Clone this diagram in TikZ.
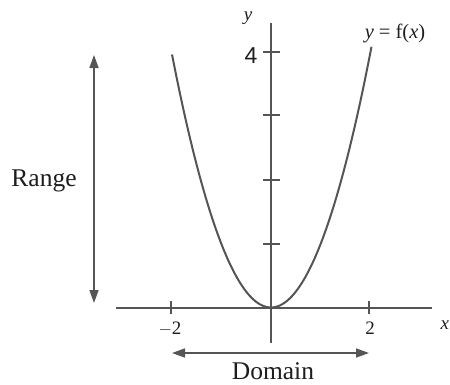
\documentclass[tikz,border=0pt]{standalone}
\usepackage{fontspec}
\setmainfont{Liberation Serif}
\newfontfamily\sansf{Liberation Sans}
\usetikzlibrary{arrows.meta}
\definecolor{ln}{HTML}{555555}
\definecolor{tx}{HTML}{1E1E1E}
\begin{document}
\begin{tikzpicture}[x=1pt,y=-1pt,
  axisline/.style={draw=ln,line width=2pt},
  tickline/.style={draw=ln,line width=1.6pt},
  curve/.style={draw=ln,line width=2pt},
  span/.style={draw=ln,line width=1.6pt,{Triangle[length=13pt,width=9pt]}-{Triangle[length=13pt,width=9pt]}},
  lbl/.style={text=tx,inner sep=0pt,font=\fontsize{19}{22}\selectfont},
  big/.style={text=tx,inner sep=0pt,font=\fontsize{25.5}{30}\selectfont}]
\useasboundingbox (0,0) rectangle (450,384);
% axes
\coordinate (xl) at (116,307.5);
\coordinate (xr) at (432,307.5);
\coordinate (yt) at (271,23);
\coordinate (yb) at (271,343);
\draw[axisline] (xl) -- (xr);
\draw[axisline] (yb) -- (yt);
% x ticks
\foreach \px/\nm in {171/m2,369/p2}{
  \coordinate (t\nm a) at (\px,301);
  \coordinate (t\nm b) at (\px,314);
  \draw[tickline] (t\nm a) -- (t\nm b);
}
% y ticks
\foreach \py/\nm in {244/1,180/2,115/3,52/4}{
  \coordinate (ty\nm a) at (263,\py);
  \coordinate (ty\nm b) at (280,\py);
  \draw[tickline] (ty\nm a) -- (ty\nm b);
}
% parabola
\draw[curve] plot[smooth,domain=-1.99:2.02,samples=60] ({271+49.75*\x},{307.5-63.9*\x*\x});
% labels
\node[lbl] (ylab) at (248,18) {\textit{y}};
\node[text=tx,inner sep=0pt,font=\sansf\fontsize{23}{26}\selectfont] (four) at (251,56) {4};
\node[lbl,font=\fontsize{20.5}{24}\selectfont] (flab) at (395,33) {\textit{y} = f(\textit{x})};
\node[lbl] (m2) at (170,328.5) {$-$2};
\node[lbl] (p2) at (370,328.5) {2};
\node[lbl,anchor=west] (xlab) at (440.5,325) {\textit{x}};
% range
\coordinate (ra) at (94,55);
\coordinate (rb) at (94,303);
\draw[span] (ra) -- (rb);
\node[big] (range) at (44,181) {Range};
% domain
\coordinate (da) at (172,353);
\coordinate (db) at (369,353);
\draw[span] (da) -- (db);
\node[big] (domain) at (273,371) {Domain};
\end{tikzpicture}
\end{document}
